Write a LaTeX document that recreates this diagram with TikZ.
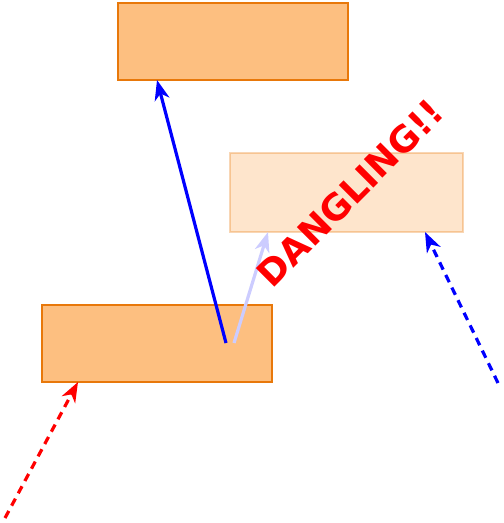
\documentclass[tikz,border=0pt]{standalone}
\usepackage{fontspec}
\newfontfamily\dvs{DejaVu Sans}
\usetikzlibrary{arrows.meta,calc}
\definecolor{boxfill}{HTML}{FDBF80}
\definecolor{boxline}{HTML}{E8780A}
\begin{document}
\begin{tikzpicture}[x=1pt,y=-1pt,
  box/.style={draw=boxline,fill=boxfill,line width=2.6pt,minimum width=230pt,minimum height=77pt,inner sep=0pt,outer sep=0pt},
  faded/.style={box,draw opacity=0.3,fill opacity=0.4,minimum width=233pt,minimum height=79pt},
  arr/.style={line width=3.2pt,-{Stealth[length=20pt,width=15pt,inset=6pt]}},
  dsh/.style={arr,dash pattern=on 8pt off 6pt}]
\useasboundingbox (0,0) rectangle (504,523);
\node[box] (top) at (233,41.5) {};
\node[faded] (mid) at (346.5,192.5) {};
\node[box] (bot) at (157,343.5) {};
\coordinate (s1) at (226,343);
\coordinate (s2) at (234,343);
\coordinate (r0) at (5,518);
\coordinate (b0) at (498,383);
\draw[arr,blue] (s1) -- ($(top.south west)+(39,0)$);
\draw[arr,blue!20] (s2) -- ($(mid.south west)+(38,0)$);
\draw[dsh,red] (r0) -- ($(bot.south west)+(36,0)$);
\draw[dsh,blue] (b0) -- ($(mid.south west)+(195,0)$);
\node[text=red,font=\dvs\bfseries\fontsize{36}{38}\selectfont,rotate=45] (dg) at (350,193) {DANGLING!!};
\end{tikzpicture}
\end{document}
